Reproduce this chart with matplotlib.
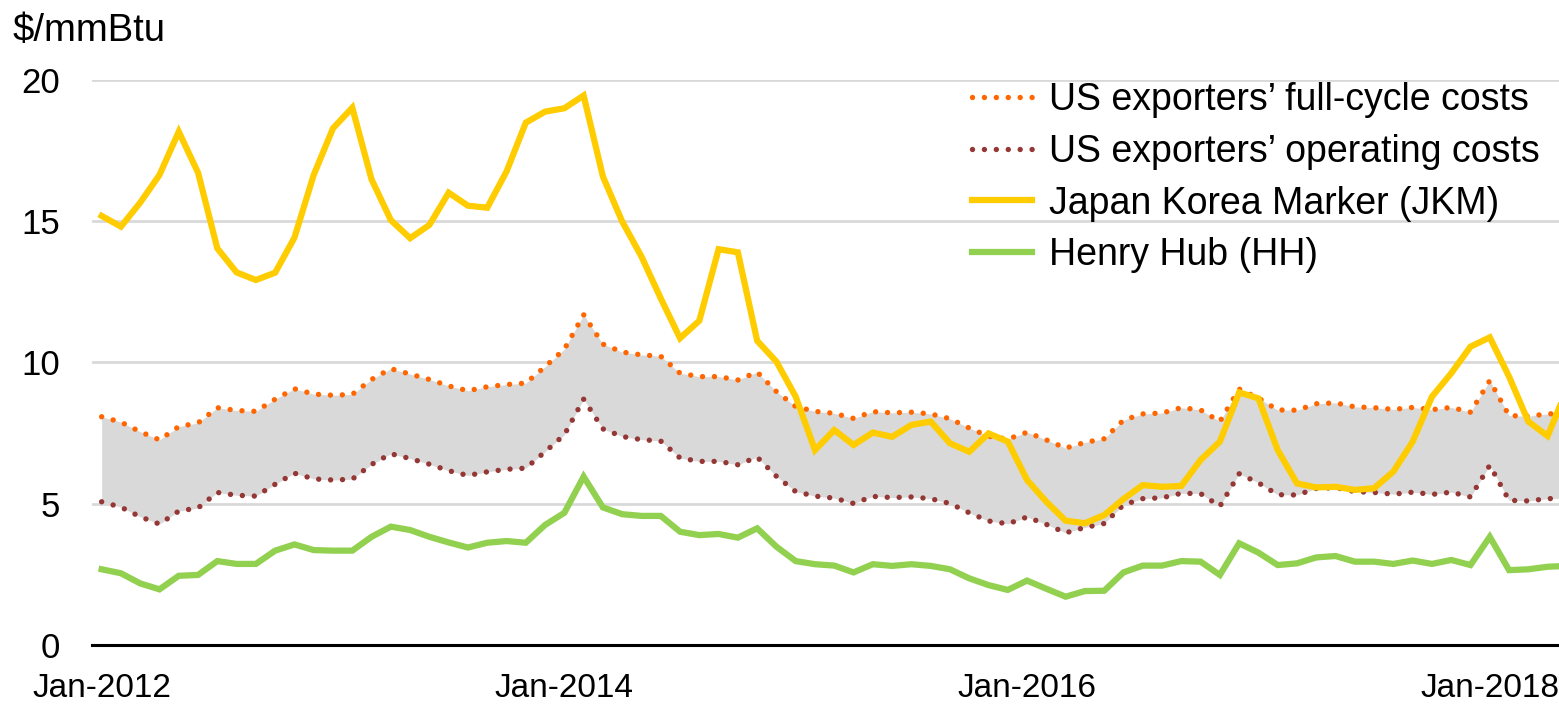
import matplotlib
matplotlib.use("Agg")
import matplotlib.pyplot as plt
import pandas as pd
import numpy as np

# Monthly prices, $/mmBtu, Jan-2012 onwards
months = pd.date_range("2012-01-01", periods=77, freq="MS")

full_cycle = [8.08, 7.89, 7.55, 7.26, 7.73, 7.86, 8.40, 8.30, 8.27, 8.70,
              9.07, 8.88, 8.84, 8.87, 9.40, 9.78, 9.59, 9.40, 9.17, 9.00,
              9.14, 9.22, 9.27, 9.85, 10.47, 11.69, 10.65, 10.37, 10.27, 10.22,
              9.62, 9.50, 9.50, 9.38, 9.66, 8.97, 8.44, 8.27, 8.20, 8.02,
              8.26, 8.22, 8.24, 8.18, 8.01, 7.68, 7.39, 7.29, 7.53, 7.26,
              6.97, 7.17, 7.30, 7.96, 8.18, 8.21, 8.40, 8.32, 7.91, 9.06,
              8.74, 8.32, 8.31, 8.54, 8.57, 8.43, 8.40, 8.34, 8.41, 8.33,
              8.41, 8.24, 9.36, 8.12, 8.10, 8.18, 8.20]

operating = [5.07, 4.88, 4.54, 4.28, 4.74, 4.85, 5.40, 5.30, 5.27, 5.69,
             6.08, 5.88, 5.84, 5.87, 6.39, 6.77, 6.60, 6.40, 6.17, 6.00,
             6.13, 6.22, 6.26, 6.84, 7.44, 8.70, 7.65, 7.38, 7.27, 7.22,
             6.62, 6.50, 6.50, 6.38, 6.65, 5.97, 5.43, 5.27, 5.20, 5.01,
             5.26, 5.22, 5.24, 5.18, 5.01, 4.68, 4.39, 4.29, 4.53, 4.27,
             3.97, 4.16, 4.30, 4.96, 5.18, 5.21, 5.37, 5.36, 4.91, 6.06,
             5.74, 5.32, 5.31, 5.54, 5.57, 5.43, 5.40, 5.34, 5.41, 5.33,
             5.41, 5.24, 6.36, 5.12, 5.10, 5.18, 5.20]

jkm = [15.19, 14.81, 15.66, 16.64, 18.17, 16.72, 14.04, 13.19, 12.92, 13.18,
       14.42, 16.64, 18.29, 19.02, 16.48, 15.04, 14.40, 14.87, 16.01, 15.55,
       15.48, 16.76, 18.49, 18.88, 19.00, 19.45, 16.58, 14.99, 13.75, 12.27,
       10.86, 11.48, 14.01, 13.90, 10.77, 10.03, 8.79, 6.90, 7.61, 7.08,
       7.52, 7.37, 7.79, 7.91, 7.14, 6.84, 7.49, 7.20, 5.84, 5.07,
       4.40, 4.31, 4.60, 5.17, 5.66, 5.60, 5.63, 6.55, 7.20, 8.94,
       8.73, 6.90, 5.72, 5.58, 5.60, 5.49, 5.55, 6.14, 7.20, 8.79,
       9.62, 10.56, 10.89, 9.50, 7.91, 7.40, 9.05]

henry_hub = [2.68, 2.54, 2.18, 1.97, 2.45, 2.48, 2.97, 2.87, 2.87, 3.34,
             3.56, 3.36, 3.34, 3.34, 3.83, 4.19, 4.07, 3.83, 3.63, 3.45,
             3.62, 3.68, 3.62, 4.25, 4.68, 5.96, 4.87, 4.63, 4.57, 4.57,
             4.01, 3.89, 3.93, 3.80, 4.13, 3.48, 2.97, 2.86, 2.81, 2.57,
             2.86, 2.80, 2.86, 2.80, 2.68, 2.36, 2.12, 1.95, 2.28, 1.99,
             1.71, 1.91, 1.92, 2.57, 2.81, 2.81, 2.97, 2.95, 2.48, 3.60,
             3.27, 2.83, 2.89, 3.10, 3.15, 2.95, 2.95, 2.87, 2.99, 2.87,
             3.01, 2.83, 3.83, 2.65, 2.68, 2.77, 2.80]

labels = ["US exporters\u2019 full-cycle costs",
          "US exporters\u2019 operating costs",
          "Japan Korea Marker (JKM)",
          "Henry Hub (HH)"]
y_ticks = [0, 5, 10, 15, 20]
x_tick_months = ["2012-01", "2014-01", "2016-01", "2018-01"]

C_FULL = "#FF6600"
C_OPER = "#953735"
C_JKM = "#FFCC00"
C_HH = "#92D050"
C_FILL = "#D9D9D9"
C_GRID = "#D9D9D9"

plt.rcParams["font.family"] = ["Liberation Sans", "DejaVu Sans"]

fig = plt.figure(figsize=(15.59, 7.04), dpi=100)
ax = fig.add_axes([92 / 1559, 1 - 645 / 704, 1 - 92 / 1559, (645 - 80) / 704])

x = np.arange(len(months))

ax.fill_between(x, operating, full_cycle, color=C_FILL, lw=0, zorder=1)

dot = (0, (0.001, 2.2))
l_full, = ax.plot(x, full_cycle, color=C_FULL, lw=3.9, linestyle=dot,
                  dash_capstyle="round", zorder=3)
l_oper, = ax.plot(x, operating, color=C_OPER, lw=3.9, linestyle=dot,
                  dash_capstyle="round", zorder=3)
l_jkm, = ax.plot(x, jkm, color=C_JKM, lw=4.5, solid_joinstyle="miter",
                 zorder=4)
l_hh, = ax.plot(x, henry_hub, color=C_HH, lw=4.5, solid_joinstyle="miter",
                zorder=4)

ax.set_xlim(-0.5, 75.59)
ax.set_ylim(0, 20)
ax.set_yticks(y_ticks)
ax.set_yticklabels([str(v) for v in y_ticks])
tick_pos = [list(months.strftime("%Y-%m")).index(m) for m in x_tick_months]
ax.set_xticks(tick_pos)
ax.set_xticklabels([months[i].strftime("%b-%Y") for i in tick_pos])

ax.grid(axis="y", color=C_GRID, lw=2.0, zorder=0)
ax.set_axisbelow(True)
for side in ["top", "right", "left"]:
    ax.spines[side].set_visible(False)
ax.spines["bottom"].set_color("black")
ax.spines["bottom"].set_linewidth(2.2)
ax.spines["bottom"].set_zorder(5)

ax.tick_params(axis="both", length=0, colors="black")
ax.tick_params(axis="y", pad=23, labelsize=25)
ax.tick_params(axis="x", pad=20, labelsize=24)

fig.text(13 / 1559, 1 - 31 / 704, "$/mmBtu", fontsize=27.5, va="center",
         ha="left")

leg = ax.legend([l_full, l_oper, l_jkm, l_hh], labels,
                loc="upper left", bbox_to_anchor=(972 / 1559, 1 - 82 / 704),
                bbox_transform=fig.transFigure, frameon=False,
                fontsize=27, handlelength=1.6, handletextpad=0.45,
                labelspacing=0.42, borderpad=0, borderaxespad=0)

fig.savefig("out.png", dpi=100)
